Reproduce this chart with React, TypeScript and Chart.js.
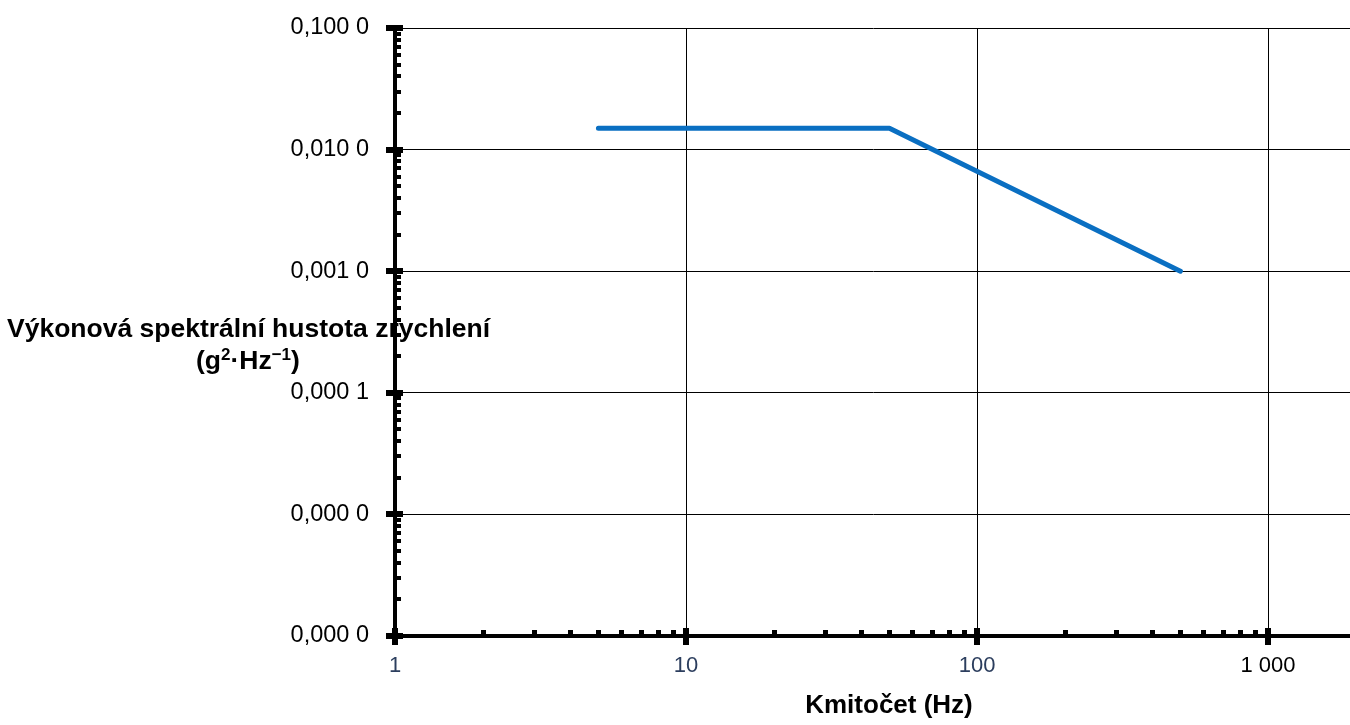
import React, { useEffect, useRef } from "react";
import { Chart, registerables } from "chart.js";

Chart.register(...registerables);

const frequencies = [5, 50, 500];
const psdValues = [0.015, 0.015, 0.001];

const xTickValues = [1, 10, 100, 1000];
const xTickLabels = ["1", "10", "100", "1 000"];
const yTickValues = [1e-6, 1e-5, 1e-4, 1e-3, 1e-2, 1e-1];
const yTickLabels = ["0,000 0", "0,000 0", "0,000 1", "0,001 0", "0,010 0", "0,100 0"];

const yTitleLine1 = "Výkonová spektrální hustota zrychlení";
const xTitle = "Kmitočet (Hz)";

const FONT = "'Liberation Sans', Arial, sans-serif";

const decorPlugin = {
  id: "decor",
  beforeDraw(chart: any) {
    const ctx = chart.ctx;
    ctx.save();
    ctx.fillStyle = "#000";
    ctx.textBaseline = "alphabetic";
    ctx.textAlign = "left";
    ctx.font = `bold 26.5px ${FONT}`;
    ctx.fillText(yTitleLine1, 7, 337);
    // second line: (g²·Hz⁻¹)
    let x = 196;
    const base = 369;
    const parts: [string, boolean][] = [
      ["(g", false],
      ["2", true],
      ["·Hz", false],
      ["−1", true],
      [")", false],
    ];
    for (const [t, sup] of parts) {
      ctx.font = sup ? `bold 17px ${FONT}` : `bold 26.5px ${FONT}`;
      ctx.fillText(t, x, sup ? base - 9 : base);
      x += ctx.measureText(t).width;
    }
    ctx.font = `bold 26px ${FONT}`;
    ctx.textAlign = "center";
    ctx.fillText(xTitle, 889, 713);
    ctx.restore();
  },
  afterDraw(chart: any) {
    const ctx = chart.ctx;
    const xs = chart.scales.x;
    const ys = chart.scales.y;
    const area = chart.chartArea;
    ctx.save();
    ctx.fillStyle = "#000";
    for (const d of xTickValues) {
      for (let m = 2; m <= 9; m++) {
        const v = m * d;
        if (v > xs.max) continue;
        const px = xs.getPixelForValue(v);
        ctx.fillRect(Math.round(px) - 2, area.bottom - 6, 5, 4);
      }
      const p = xs.getPixelForValue(d);
      ctx.fillRect(Math.round(p) - 3, area.bottom - 8, 6, 17);
    }
    for (const d of yTickValues) {
      for (let m = 2; m <= 9; m++) {
        const v = m * d;
        if (v > ys.max) continue;
        const py = ys.getPixelForValue(v);
        ctx.fillRect(area.left + 2, Math.round(py) - 2, 4, 4);
      }
      const p = ys.getPixelForValue(d);
      ctx.fillRect(area.left - 9, Math.round(p) - 3, 17, 6);
    }
    ctx.restore();
  },
};

export default function App() {
  const ref = useRef<HTMLCanvasElement | null>(null);
  useEffect(() => {
    if (!ref.current) return;
    const chart = new Chart(ref.current, {
      type: "line",
      data: {
        datasets: [
          {
            data: frequencies.map((f, i) => ({ x: f, y: psdValues[i] })),
            borderColor: "#0a6fc2",
            borderWidth: 5,
            borderCapStyle: "round",
            borderJoinStyle: "round",
            pointRadius: 0,
            fill: false,
            tension: 0,
          },
        ],
      },
      options: {
        responsive: false,
        animation: false,
        events: [],
        layout: { padding: { top: 28, left: 0, right: 0, bottom: 0 } },
        plugins: { legend: { display: false }, tooltip: { enabled: false } },
        scales: {
          x: {
            type: "logarithmic",
            min: 1,
            max: 1913,
            afterBuildTicks: (s: any) => {
              s.ticks = xTickValues.map((v) => ({ value: v }));
            },
            afterFit: (s: any) => {
              s.height = 89;
              s.paddingLeft = 0;
              s.paddingRight = 0;
            },
            grid: { color: "#000", lineWidth: 1, drawTicks: false },
            border: { display: true, color: "#000", width: 4 },
            ticks: {
              autoSkip: false,
              maxRotation: 0,
              padding: 17,
              font: { family: FONT, size: 22 },
              color: (c: any) => (c.tick && c.tick.value < 1000 ? "#2c3e5e" : "#000"),
              callback: (v: any) => {
                const i = xTickValues.indexOf(Number(v));
                return i >= 0 ? xTickLabels[i] : "";
              },
            },
          },
          y: {
            type: "logarithmic",
            min: 1e-6,
            max: 0.1,
            afterBuildTicks: (s: any) => {
              s.ticks = yTickValues.map((v) => ({ value: v }));
            },
            afterFit: (s: any) => {
              s.width = 395;
              s.paddingTop = 0;
              s.paddingBottom = 0;
            },
            grid: { color: "#000", lineWidth: 1, drawTicks: false },
            border: { display: true, color: "#000", width: 4 },
            ticks: {
              autoSkip: false,
              padding: 26,
              font: { family: FONT, size: 23.5 },
              color: "#000",
              callback: (v: any, idx: number) => yTickLabels[idx],
            },
          },
        },
      },
      plugins: [decorPlugin],
    } as any);
    return () => chart.destroy();
  }, []);
  return (
    <div style={{ position: "fixed", left: 0, top: 0, width: 1350, height: 725, background: "#fff" }}>
      <canvas ref={ref} width={1350} height={725} style={{ display: "block" }} />
    </div>
  );
}
